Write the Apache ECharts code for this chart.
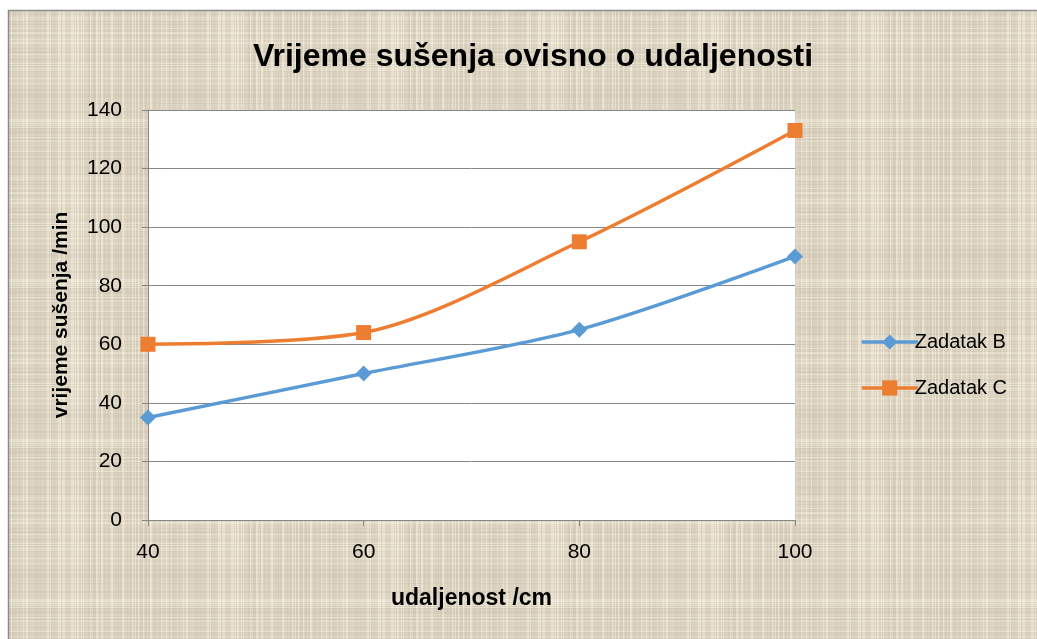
<!DOCTYPE html>
<html><head><meta charset="utf-8">
<script src="https://cdn.jsdelivr.net/npm/echarts@6/dist/echarts.min.js"></script>
<style>html,body{margin:0;padding:0;background:#fff}#c{width:1037px;height:639px}</style>
</head><body><div id="c"></div>
<script>
const xValues = [40, 60, 80, 100];
const seriesB = [35, 50, 65, 90];
const seriesC = [60, 64, 95, 133];
const seriesNames = ['Zadatak B', 'Zadatak C'];
const titleText = 'Vrijeme sušenja ovisno o udaljenosti';
const xName = 'udaljenost /cm';
const yName = 'vrijeme sušenja /min';

// burlap-like texture
function makeTexture() {
  const cv = document.createElement('canvas');
  cv.width = 160; cv.height = 160;
  const g = cv.getContext('2d');
  g.fillStyle = '#e1d9c7'; g.fillRect(0, 0, 160, 160);
  const h = i => { const s = Math.sin(i * 12.9898) * 43758.5453; return s - Math.floor(s); };
  for (let i = 0; i < 160; i++) {
    const v = h(i + 1);
    g.fillStyle = v > 0.75 ? 'rgba(160,145,120,0.13)' : (v < 0.2 ? 'rgba(250,245,232,0.4)' : 'rgba(190,175,150,0.05)');
    g.fillRect(i, 0, 1, 160);
    const w = h(i + 500);
    g.fillStyle = w > 0.75 ? 'rgba(160,145,120,0.12)' : (w < 0.2 ? 'rgba(250,245,232,0.35)' : 'rgba(190,175,150,0.05)');
    g.fillRect(0, i, 160, 1);
  }
  return cv;
}

const chart = echarts.init(document.getElementById('c'));
const font = 'Liberation Sans, Arial, sans-serif';
chart.setOption({
  animation: false,
  graphic: [{
    type: 'rect', z: -10, silent: true,
    shape: { x: 8.5, y: 10.5, width: 1100, height: 700 },
    style: { fill: { image: makeTexture(), repeat: 'repeat' }, stroke: '#8c8c8c', lineWidth: 1.5 }
  }],
  title: {
    text: titleText, left: 528, top: 36, textAlign: 'center',
    textStyle: { fontFamily: font, fontWeight: 'bold', fontSize: 32, color: '#000' }
  },
  legend: {
    orient: 'vertical', left: 855, top: 327, itemGap: 26,
    itemWidth: 56, itemHeight: 19,
    lineStyle: { width: 3.5 },
    textStyle: { fontFamily: font, fontSize: 20, color: '#000', padding: [0, 0, 0, -8] },
    data: seriesNames
  },
  grid: { left: 148, top: 110, right: 242, bottom: 119, show: true, backgroundColor: '#fff', borderWidth: 0 },
  xAxis: {
    type: 'value', min: 40, max: 100, interval: 20,
    name: xName, nameLocation: 'middle', nameGap: 67,
    nameTextStyle: { fontFamily: font, fontWeight: 'bold', fontSize: 23, color: '#000' },
    axisLine: { lineStyle: { color: '#868686', width: 1 } },
    axisTick: { show: true, length: 6, lineStyle: { color: '#868686' } },
    axisLabel: { fontFamily: font, fontSize: 21, color: '#000', margin: 22 },
    splitLine: { show: false }
  },
  yAxis: {
    type: 'value', min: 0, max: 140, interval: 20,
    name: yName, nameLocation: 'middle', nameGap: 76, nameRotate: 90,
    nameTextStyle: { fontFamily: font, fontWeight: 'bold', fontSize: 21, color: '#000' },
    axisLine: { show: true, lineStyle: { color: '#868686', width: 1 } },
    axisTick: { show: true, length: 6, lineStyle: { color: '#868686' } },
    axisLabel: { fontFamily: font, fontSize: 21, color: '#000', margin: 26 },
    splitLine: { lineStyle: { color: '#868686', width: 1 } }
  },
  series: [
    { name: seriesNames[0], type: 'line', smooth: 0.3,
      data: xValues.map((x, i) => [x, seriesB[i]]),
      symbol: 'diamond', symbolSize: 16, showAllSymbol: true,
      lineStyle: { color: '#5b9bd5', width: 3.5 }, itemStyle: { color: '#5b9bd5' } },
    { name: seriesNames[1], type: 'line', smooth: 0.3,
      data: xValues.map((x, i) => [x, seriesC[i]]),
      symbol: 'rect', symbolSize: 15, showAllSymbol: true,
      lineStyle: { color: '#ed7d31', width: 3.5 }, itemStyle: { color: '#ed7d31' } }
  ]
});
</script></body></html>
